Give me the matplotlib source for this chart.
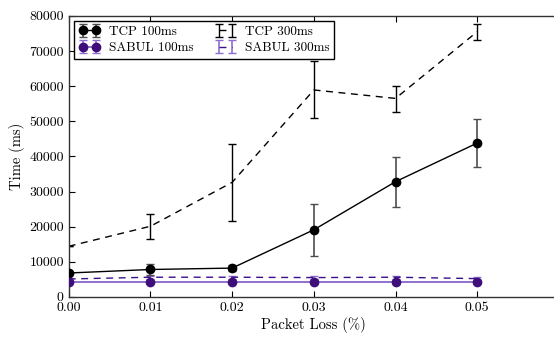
import matplotlib
matplotlib.use("Agg")
import matplotlib.pyplot as plt

plt.rcParams['font.family'] = ['cmr10', 'DejaVu Serif']
plt.rcParams['mathtext.fontset'] = 'cm'
plt.rcParams['axes.formatter.use_mathtext'] = True
plt.rcParams['axes.unicode_minus'] = False

loss = [0.00, 0.01, 0.02, 0.03, 0.04, 0.05]

tcp100 = [6800, 7800, 8200, 19100, 32800, 43800]
tcp100_lo = [6800, 6200, 7300, 11700, 25500, 37000]
tcp100_hi = [6800, 9400, 9200, 26500, 39900, 50600]

sabul100 = [4300, 4300, 4300, 4300, 4300, 4300]
sabul100_err = [300, 300, 300, 300, 300, 300]

tcp300 = [14400, 20100, 32600, 58900, 56500, 75500]
tcp300_lo = [14400, 16500, 21500, 51000, 52600, 73100]
tcp300_hi = [14400, 23600, 43500, 67100, 60100, 77800]

sabul300 = [5100, 5600, 5600, 5500, 5600, 5200]
sabul300_err = [400, 400, 400, 400, 400, 400]

xticks = [0.00, 0.01, 0.02, 0.03, 0.04, 0.05]
yticks = [0, 10000, 20000, 30000, 40000, 50000, 60000, 70000, 80000]

fig = plt.figure(figsize=(5.54, 3.37), dpi=100)
ax = fig.add_axes([0.124, 0.119, 1.009 - 0.124, 0.953 - 0.119])

def asym(v, lo, hi):
    return [[a - b for a, b in zip(v, lo)], [b - a for a, b in zip(v, hi)]]

ax.errorbar(loss, tcp100, yerr=asym(tcp100, tcp100_lo, tcp100_hi), color='black',
            lw=1.0, marker='o', ms=6, ecolor='0.3', elinewidth=1.2, capsize=3,
            capthick=1.0, label='TCP 100ms', zorder=3)
ax.errorbar(loss, sabul100, yerr=sabul100_err, color='#7e57c2', lw=1.2, marker='o',
            ms=6, mfc='#3e0f7a', mec='#3e0f7a', ecolor='#8e6fd0', elinewidth=1.2,
            capsize=3, capthick=1.0, label='SABUL 100ms', zorder=3)
ax.errorbar(loss, tcp300, yerr=asym(tcp300, tcp300_lo, tcp300_hi), color='black',
            lw=1.0, ls='--', dashes=(5, 4), ecolor='black', elinewidth=1.0,
            capsize=3, capthick=1.0, label='TCP 300ms', zorder=2)
ax.errorbar(loss, sabul300, yerr=sabul300_err, color='#3b0f8a', lw=1.0, ls='--',
            dashes=(5, 4), ecolor='#8e6fd0', elinewidth=1.2, capsize=3,
            capthick=1.0, label='SABUL 300ms', zorder=2)

ax.set_xlim(0, 0.06)
ax.set_ylim(0, 80000)
ax.set_xticks(xticks)
ax.set_xticklabels(['%.2f' % t for t in xticks])
ax.set_yticks(yticks)
ax.set_yticklabels([str(t) for t in yticks])
ax.tick_params(direction='in', top=True, right=False, length=4, width=0.8, labelsize=10)

for s in ax.spines.values():
    s.set_color('0.2')
    s.set_linewidth(1.0)

ax.set_xlabel('Packet Loss (%)', fontsize=10.5, labelpad=2)
ax.set_ylabel('Time (ms)', fontsize=10.5, labelpad=3)

leg = ax.legend(loc='upper left', ncol=2, fontsize=9.5, fancybox=False,
                framealpha=1, edgecolor='black', borderaxespad=0.4,
                columnspacing=1.6, handlelength=1.6, handletextpad=0.7,
                numpoints=2, borderpad=0.35, labelspacing=0.3)
leg.get_frame().set_linewidth(1.0)

fig.savefig('out.png', dpi=100)
